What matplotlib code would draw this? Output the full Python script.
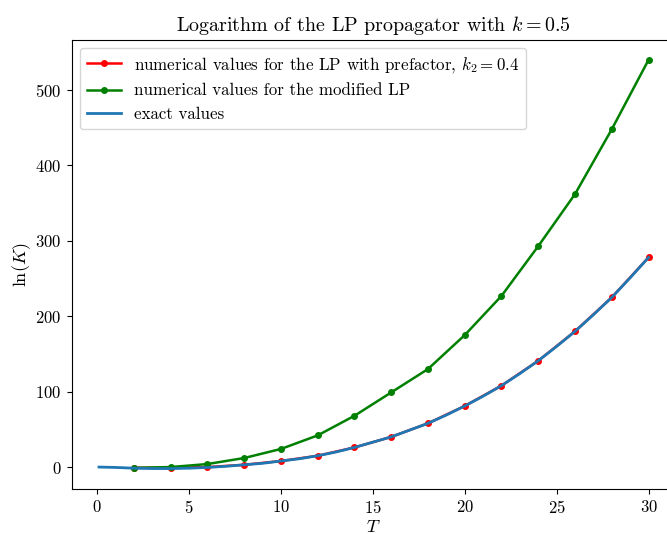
import matplotlib
matplotlib.use("Agg")
import matplotlib.pyplot as plt

plt.rcParams['font.family'] = 'serif'
plt.rcParams['font.serif'] = ['cmr10', 'DejaVu Serif']
plt.rcParams['mathtext.fontset'] = 'cm'
plt.rcParams['axes.formatter.use_mathtext'] = True
plt.rcParams['axes.unicode_minus'] = False

# Sample times for the numerical runs
T_num = [2, 4, 6, 8, 10, 12, 14, 16, 18, 20, 22, 24, 26, 28, 30]
lnK_prefactor = [-1, -1, 0, 3, 8, 15, 26, 40, 58, 81, 108, 141, 180, 225, 278]
lnK_modified = [-1, 0, 4, 12, 24, 42, 68, 99, 130, 175, 227, 293, 362, 448, 540]

# Exact curve
T_exact = [0.1, 1, 2, 3, 4, 5, 6, 7, 8, 9, 10, 11, 12, 13, 14, 15, 16, 17, 18,
           19, 20, 21, 22, 23, 24, 25, 26, 27, 28, 29, 30]
lnK_exact = [0, -0.5, -1.5, -2, -2, -1.5, -0.5, 1, 3, 5, 8, 11, 15, 20, 26, 33,
             40, 49, 58, 69, 81, 94, 108, 124, 141, 160, 180, 202, 225, 251, 278]

fig = plt.figure(figsize=(6.67, 5.34), dpi=100)
ax = fig.add_axes([71.5 / 667, 45 / 534, (676 - 71.5) / 667, 449.5 / 534])

ax.plot(T_num, lnK_prefactor, color='red', marker='o', markersize=4,
        linewidth=1.8,
        label=r'numerical values for the LP with prefactor, $k_2=0.4$')
ax.plot(T_num, lnK_modified, color='green', marker='o', markersize=4,
        linewidth=1.8,
        label='numerical values for the modified LP')
ax.plot(T_exact, lnK_exact, color='#1f77b4', linewidth=2,
        label='exact values')

ax.set_title(r'Logarithm of the LP propagator with $k=0.5$', fontsize=14.4)
ax.set_xlabel(r'$T$', fontsize=13, labelpad=2)
ax.set_ylabel(r'$\ln(K)$', fontsize=13, labelpad=2)
ax.set_xticks([0, 5, 10, 15, 20, 25, 30])
ax.set_yticks([0, 100, 200, 300, 400, 500])
ax.tick_params(labelsize=12)
ax.legend(loc='upper left', fontsize=12.2)

fig.savefig('out.png', dpi=100)
